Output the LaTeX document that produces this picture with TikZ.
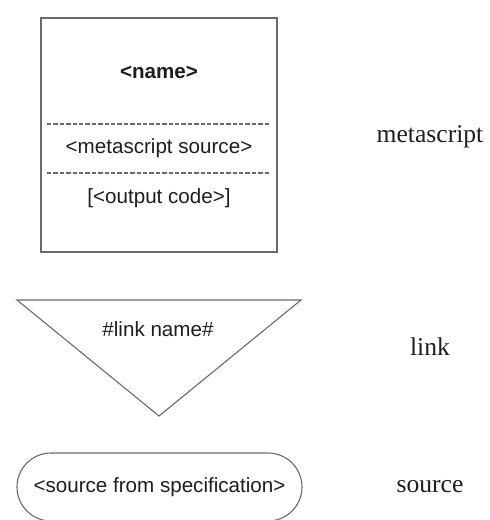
\documentclass[tikz,border=0pt]{standalone}
\usepackage{fontspec}
\setmainfont{Liberation Serif}
\setsansfont{Liberation Sans}
\usetikzlibrary{positioning,shapes.misc,calc}
\definecolor{ink}{HTML}{1E1E1E}
\definecolor{edge}{HTML}{6A6A6A}
\tikzset{
  every picture/.style={line width=0.55pt,draw=edge},
  bx/.style={draw=edge,fill=white,inner sep=0pt},
  txt/.style={font=\sffamily\fontsize{10.3}{12}\selectfont,text=ink,inner sep=0pt},
  kind/.style={font=\rmfamily\fontsize{12.8}{15}\selectfont,text=ink,inner sep=0pt},
  sep/.style={draw=edge,line width=0.7pt,dash pattern=on 2.2pt off 1pt},
  pill/.style={rounded rectangle,draw=edge,fill=white,inner sep=0pt},
}

\begin{document}
\begin{tikzpicture}[x=0.5pt,y=-0.5pt]
  \useasboundingbox (0,0) rectangle (490,520);
  % metascript box
  \node[bx,minimum width=118pt,minimum height=117pt] (meta) at (159,135) {};
  \node[txt,font=\sffamily\bfseries\fontsize{10.3}{12}\selectfont] (name) at (159,72) {<name>};
  \coordinate (s1a) at (47,124); \coordinate (s1b) at (270,124);
  \coordinate (s2a) at (47,173); \coordinate (s2b) at (270,173);
  \draw[sep] (s1a) -- (s1b);
  \node[txt] (msrc) at (159,148) {<metascript source>};
  \draw[sep] (s2a) -- (s2b);
  \node[txt] (out) at (159,198) {[<output code>]};
  % link triangle
  \coordinate (tl) at (17,300); \coordinate (tr) at (301,300); \coordinate (tp) at (159,416);
  \draw (tl) -- (tr) -- (tp) -- cycle;
  \node[txt] (lname) at (158,329) {\#link name\#};
  % source pill
  \node[pill,minimum width=142.5pt,minimum height=34pt] (src) at (159.5,487) {};
  \node[txt] (srct) at (159.5,487) {<source from specification>};
  % kinds
  \node[kind] (kmeta) at (430,137) {metascript};
  \node[kind] (klink) at (430,347) {link};
  \node[kind] (ksrc) at (430,487) {source};
\end{tikzpicture}
\end{document}
